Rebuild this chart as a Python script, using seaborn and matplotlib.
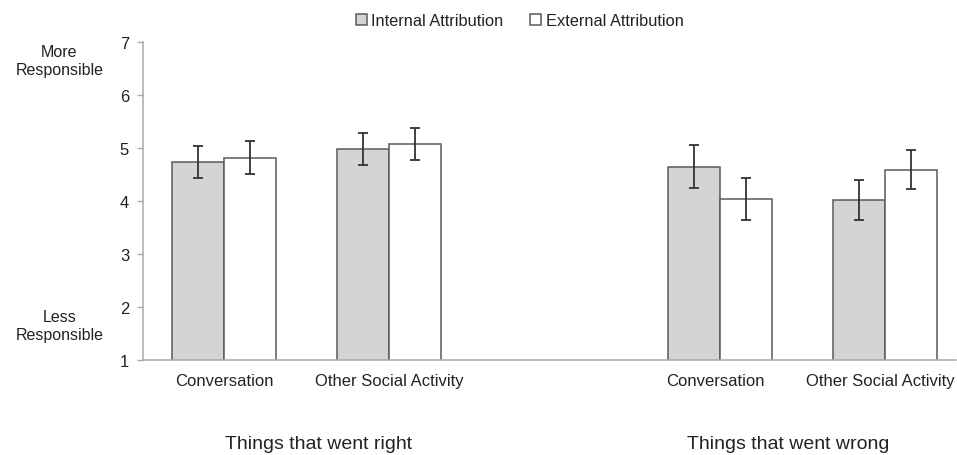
import numpy as np
import pandas as pd
import matplotlib
matplotlib.use("Agg")
import matplotlib.pyplot as plt
import matplotlib.transforms as mtransforms
import seaborn as sns

# Data
slots = ["right_conv", "right_other", "gap", "wrong_conv", "wrong_other"]
slot_labels = ["Conversation", "Other Social Activity", "", "Conversation", "Other Social Activity"]
activity_keys = ["right_conv", "right_other", "wrong_conv", "wrong_other"]
series = ["Internal Attribution", "External Attribution"]
internal = [4.74, 4.98, 4.65, 4.02]
external = [4.82, 5.07, 4.04, 4.59]
internal_err = [0.30, 0.30, 0.40, 0.38]
external_err = [0.31, 0.30, 0.40, 0.37]
group_labels = ["Things that went right", "Things that went wrong"]

df = pd.DataFrame({
    "slot": activity_keys * 2,
    "attribution": [series[0]] * 4 + [series[1]] * 4,
    "score": internal + external,
    "err": internal_err + external_err,
})

sns.set_style("white")
plt.rcParams["font.family"] = ["Liberation Sans", "DejaVu Sans"]
plt.rcParams["text.color"] = "#222222"

fig = plt.figure(figsize=(9.57, 4.56), dpi=100)
ax = fig.add_axes([0.1494, 0.2083, 0.85, 0.6974])

palette = {series[0]: "#d4d4d4", series[1]: "white"}
sns.barplot(data=df, x="slot", y="score", hue="attribution", order=slots,
            hue_order=series, palette=palette, width=0.63, gap=0,
            edgecolor="#5a5a5a", linewidth=1.1, errorbar=None, ax=ax)

# error bars on top of each bar
for cont, errs in zip(ax.containers, [internal_err, external_err]):
    for bar, e in zip(cont, errs):
        ax.errorbar(bar.get_x() + bar.get_width() / 2, bar.get_height(), yerr=e,
                    fmt="none", ecolor="#333333", elinewidth=1.3, capsize=3.5,
                    capthick=1.3, zorder=5)

ax.set_ylim(1, 7)
ax.set_xlim(-0.49, 4.43)
ax.set_yticks(range(1, 8))
ax.set_xticks(range(len(slots)))
ax.set_xticklabels(slot_labels)
ax.set_xlabel("")
ax.set_ylabel("")
ax.tick_params(axis="x", length=0, pad=9, labelsize=12, labelcolor="#222222")
ax.tick_params(axis="y", left=True, length=4, width=1, color="#aaaaaa",
               pad=6, labelsize=12, labelcolor="#222222")
sns.despine(ax=ax)
for s in ["left", "bottom"]:
    ax.spines[s].set_color("#aaaaaa")
    ax.spines[s].set_linewidth(1.1)

# right-hand labels sit a little left so the last one fits
shift = mtransforms.ScaledTranslation(-5 / 100, 0, fig.dpi_scale_trans)
for lab in ax.get_xticklabels()[3:]:
    lab.set_transform(lab.get_transform() + shift)

# anchor labels on the y axis
ax.text(-0.996, 6.66, "More\nResponsible", ha="center", va="center",
        fontsize=11.5, linespacing=1.25, clip_on=False)
ax.text(-0.996, 1.66, "Less\nResponsible", ha="center", va="center",
        fontsize=11.5, linespacing=1.25, clip_on=False)

# group labels under the categories
trans = mtransforms.blended_transform_factory(ax.transData, ax.transAxes)
ax.text(0.574, -0.264, group_labels[0], transform=trans, ha="center",
        va="center", fontsize=14)
ax.text(3.41, -0.264, group_labels[1], transform=trans, ha="center",
        va="center", fontsize=14)

sns.move_legend(ax, "center", bbox_to_anchor=(0.543, 0.952),
                bbox_transform=fig.transFigure, ncol=2, frameon=False,
                title=None, fontsize=11.8, handlelength=0.65, handleheight=0.65,
                handletextpad=0.3, columnspacing=1.6)

fig.savefig("out.png", dpi=100)
